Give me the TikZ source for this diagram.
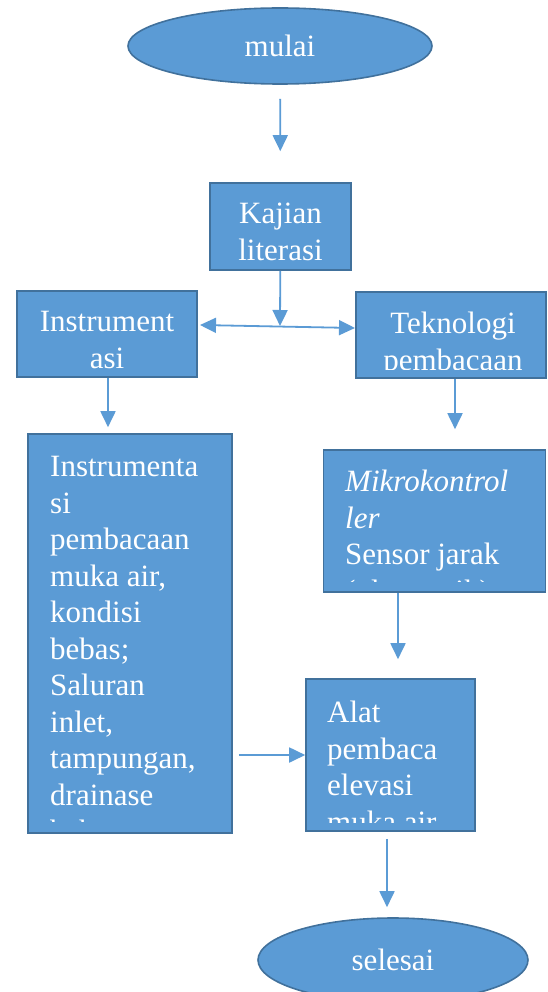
\documentclass[tikz,border=0pt]{standalone}
\usepackage{fontspec}
\setmainfont{Liberation Serif}
\usepackage{tikz}
\usetikzlibrary{positioning,shapes.geometric,arrows.meta}
\definecolor{boxfill}{HTML}{5B9BD5}
\definecolor{boxline}{HTML}{41719C}
\newcommand{\bigtxt}{\fontsize{31}{36.5}\selectfont}

\begin{document}
\begin{tikzpicture}[x=1pt, y=-1pt, >={Triangle[length=16pt,width=15pt]}, every node/.style={font=\bigtxt}]
\tikzstyle{oval}=[ellipse, draw=boxline, fill=boxfill, line width=1.6pt, text=white, inner sep=0pt]
\tikzstyle{block}=[rectangle, draw=boxline, fill=boxfill, line width=1.6pt, inner sep=0pt]
\tikzstyle{txt}=[text=white, align=left, anchor=north west, inner sep=0pt]
\tikzstyle{flow}=[->, draw=boxfill, line width=1.8pt]
\useasboundingbox (0,0) rectangle (548,992);
\node[oval, minimum width=304pt, minimum height=76pt] (mulai) at (280,46) {mulai};
\node[block, minimum width=141pt, minimum height=87pt] (kajian) at (280.5,226.5) {};
\node[txt, anchor=center, align=center] (kajiantxt) at (280.5,232) {Kajian\\literasi};
\node[block, minimum width=180pt, minimum height=86pt] (instr) at (107,334) {};
\node[block, minimum width=190pt, minimum height=86pt] (tekno) at (451,335) {};
\node[block, minimum width=204pt, minimum height=399pt] (big) at (130,633.5) {};
\node[block, minimum width=222pt, minimum height=142pt] (mikro) at (434.5,521) {};
\node[block, minimum width=169pt, minimum height=152pt] (alat) at (390.5,755) {};
\node[oval, minimum width=270pt, minimum height=84pt] (selesai) at (393,960) {selesai};
% teks dalam kotak terpotong di bawah
\begin{scope}
\clip (instr.north west) rectangle ([yshift=9pt]instr.south east);
\node[txt, anchor=north, align=center] (instrtxt) at (107,311.5) {Instrument\\asi};
\end{scope}
\begin{scope}
\clip (tekno.north west) rectangle ([yshift=9pt]tekno.south east);
\node[txt, anchor=north, align=center] (teknotxt) at (453,312) {Teknologi\\pembacaan};
\end{scope}
\begin{scope}
\clip (big.north west) rectangle ([yshift=12pt]big.south east);
\node[txt] (bigtxt) at (50,456) {Instrumenta\\si\\pembacaan\\muka air,\\kondisi\\bebas;\\Saluran\\inlet,\\tampungan,\\drainase\\bebas};
\end{scope}
\begin{scope}
\clip (mikro.north west) rectangle ([yshift=11pt]mikro.south east);
\node[txt] (mikrotxt) at (345,470) {\textit{Mikrokontrol}\\\textit{ler}\\Sensor jarak\\(ultrasonik)};
\end{scope}
\begin{scope}
\clip (alat.north west) rectangle ([yshift=9pt]alat.south east);
\node[txt] (alattxt) at (327,701) {Alat\\pembaca\\elevasi\\muka air};
\end{scope}
\coordinate (mid) at (280,326);
\coordinate (lft) at (200,325);
\coordinate (rgt) at (355,328);
\draw[flow, shorten <=14pt, shorten >=31pt] (mulai) -- (kajian);
\draw[flow] (kajian) -- (mid);
\draw[flow, <->] (lft) -- (rgt);
\draw[flow, shorten >=6pt] (instr.south -| 108,0) -- (108,0 |- big.north);
\draw[flow, shorten >=20pt] (tekno.south -| 455,0) -- (455,0 |- mikro.north);
\draw[flow, shorten >=19pt] (mikro.south -| 398,0) -- (398,0 |- alat.north);
\draw[flow, shorten <=6pt] (big.east |- alat) -- (alat.west);
\draw[flow, shorten <=7pt, shorten >=10pt] (alat.south -| 387,0) -- (387,0 |- selesai.north);
\end{tikzpicture}
\end{document}
